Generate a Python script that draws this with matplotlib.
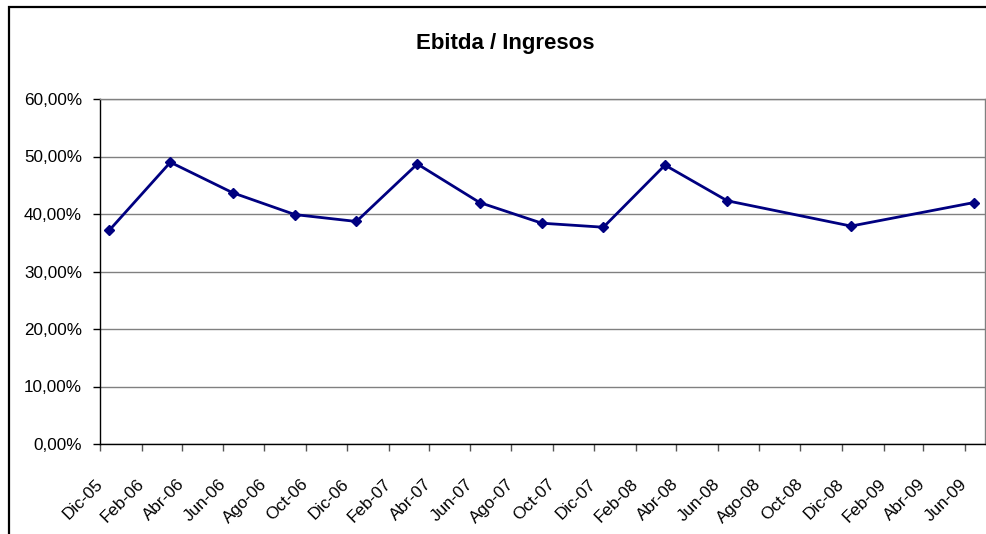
import datetime as dt
import matplotlib
matplotlib.use("Agg")
import matplotlib.pyplot as plt
from matplotlib.patches import Rectangle
from matplotlib.ticker import FuncFormatter

plt.rcParams['font.family'] = ['Liberation Sans', 'DejaVu Sans']

# Quarterly EBITDA / revenue ratio (%)
periods = ["Dic-05", "Mar-06", "Jun-06", "Sep-06", "Dic-06", "Mar-07", "Jun-07",
           "Sep-07", "Dic-07", "Mar-08", "Jun-08", "Dic-08", "Jun-09"]
ebitda_ratio = [37.2, 49.0, 43.7, 39.9, 38.7, 48.7, 42.0,
                38.4, 37.7, 48.5, 42.3, 37.9, 42.0]

tick_labels = ["Dic-05", "Feb-06", "Abr-06", "Jun-06", "Ago-06", "Oct-06", "Dic-06",
               "Feb-07", "Abr-07", "Jun-07", "Ago-07", "Oct-07", "Dic-07", "Feb-08",
               "Abr-08", "Jun-08", "Ago-08", "Oct-08", "Dic-08", "Feb-09", "Abr-09",
               "Jun-09"]
y_ticks = [0, 10, 20, 30, 40, 50, 60]

MONTHS = {"Ene": 1, "Feb": 2, "Mar": 3, "Abr": 4, "May": 5, "Jun": 6,
          "Jul": 7, "Ago": 8, "Sep": 9, "Oct": 10, "Nov": 11, "Dic": 12}


def parse(label, day=1):
    mon, yy = label.split("-")
    return dt.date(2000 + int(yy), MONTHS[mon], day)


point_dates = [parse(p, 15) for p in periods]
tick_dates = [parse(t) for t in tick_labels]

fig = plt.figure(figsize=(9.86, 5.34), dpi=100)
W, H = 986, 534

# chart frame
fig.patches.append(Rectangle((9 / W, -0.1), 1.2, (H - 7) / H + 0.1,
                             transform=fig.transFigure, fill=False,
                             edgecolor='black', linewidth=1.6, zorder=0))

ax = fig.add_axes([100 / W, 90 / H, 885 / W, 345 / H])

ax.plot(point_dates, ebitda_ratio, color='#000080', linewidth=2.0,
        marker='D', markersize=5, markeredgecolor='#000080',
        markerfacecolor='#000080', zorder=3, clip_on=False)

ax.set_ylim(0, 60)
ax.set_yticks(y_ticks)
ax.yaxis.set_major_formatter(FuncFormatter(lambda v, _: f"{v:.2f}%".replace(".", ",")))
ax.set_xlim(dt.date(2005, 12, 1), dt.date(2009, 7, 1))
ax.set_xticks(tick_dates)
ax.set_xticklabels(tick_labels, rotation=45, ha='right', va='center',
                   rotation_mode='anchor')

ax.yaxis.grid(True, color='#808080', linewidth=1.0)
ax.set_axisbelow(True)

for side in ('top', 'right'):
    ax.spines[side].set_color('#808080')
    ax.spines[side].set_linewidth(1.0)
for side in ('left', 'bottom'):
    ax.spines[side].set_color('black')
    ax.spines[side].set_linewidth(1.0)

ax.tick_params(axis='y', direction='out', length=5, width=1, color='black',
               labelsize=12.3, pad=8)
ax.tick_params(axis='x', direction='out', length=5, width=1, color='#555555',
               labelsize=12.3, pad=22)

fig.text(505 / W, 1 - 43 / H, "Ebitda / Ingresos", ha='center', va='center',
         fontsize=16, fontweight='bold')

fig.savefig("out.png", dpi=100)
